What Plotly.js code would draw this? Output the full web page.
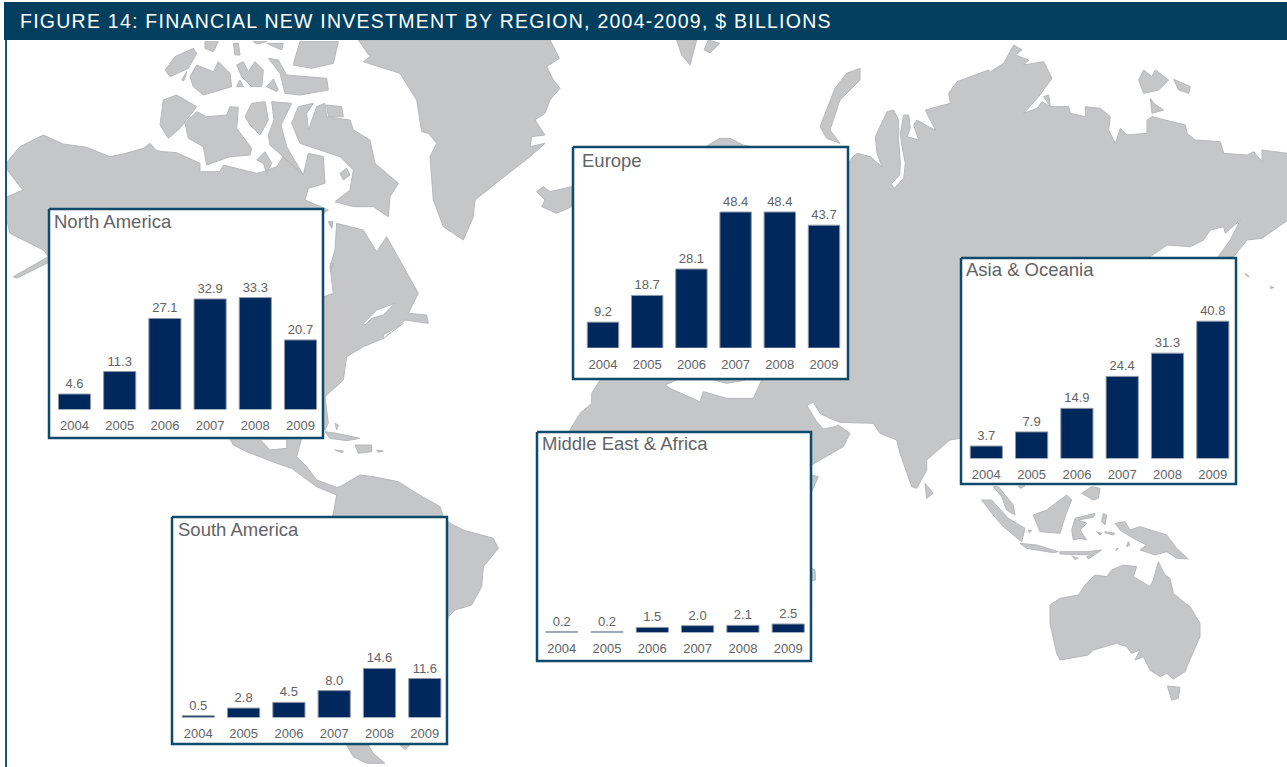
<!DOCTYPE html>
<html><head><meta charset="utf-8">
<script src="https://cdn.plot.ly/plotly-3.0.1.min.js"></script>
<style>html,body{margin:0;padding:0;background:#fff}#c{width:1287px;height:767px}.gtitle{letter-spacing:1.25px}</style>
</head><body><div id="c"></div>
<script>
// ---------- chart data ----------
const years = ['2004','2005','2006','2007','2008','2009'];
const northAmerica = [4.6,11.3,27.1,32.9,33.3,20.7];
const europe = [9.2,18.7,28.1,48.4,48.4,43.7];
const asiaOceania = [3.7,7.9,14.9,24.4,31.3,40.8];
const middleEastAfrica = [0.2,0.2,1.5,2.0,2.1,2.5];
const southAmerica = [0.5,2.8,4.5,8.0,14.6,11.6];
const regionNames = ['North America','Europe','Asia & Oceania','Middle East & Africa','South America'];

// ---------- map outlines, read at 3x from crops of the picture ----------
const z=(pts,ox,oy)=>pts.map(p=>[ox+p[0]/3,oy+p[1]/3]);
const americas=[].concat(z([[22,485],[60,440],[130,405],[190,432],[260,442],[330,470],[370,462],[430,445],[450,430],[470,452],[490,455],[530,458],[600,490],[600,515],[660,515],[670,495],[770,520],[790,515],[830,500],[850,470],[910,525],[925,460],[970,470],[975,550],[925,565],[915,600],[985,630],[966,642]],0,0),
 [[300,297],[323,297]],
 z([[1000,280],[990,200],[1005,150],[1010,70],[1090,90],[1130,155],[1160,110],[1200,180],[1255,280],[1225,340],[1280,345],[1285,370],[1215,360],[1150,415],[1090,440],[1040,470],[1030,540],[975,590],[985,670],[975,690],[968,670]],0,200),
 [[300,420]],
 z([[905,715],[890,770],[920,800],[950,840],[1010,862]],0,200),
 z([[540,50],[600,15],[640,20],[715,35],[770,70],[840,110],[850,140],[870,160],[910,180],[1000,205],[1015,235],[970,290],[965,350],[935,405],[885,420],[865,440],[800,700],[625,825],[640,850],[675,880],[620,880],[580,860],[560,825],[400,500],[520,130]],160,470),
 z([[1010,885],[950,860],[875,805],[830,790],[740,755],[700,735]],0,200),
 [[150,300]],
 z([[150,185],[50,235],[40,230],[145,170],[130,150],[90,130],[30,100],[20,60]],0,200),
 z([[22,590],[70,570],[60,560],[22,510]],0,0));
const arctic=[
 [[490,300],[530,285],[590,320],[570,345],[540,385],[505,415],[480,375]],
 [[555,370],[590,335],[620,350],[680,345],[690,320],[715,322],[710,385],[755,445],[750,465],[690,470],[620,495],[610,440],[565,415]],
 [[735,350],[755,310],[795,305],[805,360],[780,405],[750,375]],
 [[815,305],[875,310],[843,375],[860,440],[910,525],[850,470],[810,435],[805,405],[822,360]],
 [[770,480],[795,455],[815,490],[800,520],[790,490]],
 [[875,370],[895,320],[940,310],[920,340],[925,390],[950,320],[975,310],[980,350],[1050,360],[1060,390],[1110,420],[1125,490],[1195,550],[1170,590],[1165,650],[1120,620],[1060,620],[1005,605],[1050,570],[1060,510],[1020,470],[960,450],[900,430]],
 [[980,315],[1025,320],[1030,350],[985,350]],
 [[1020,520],[1040,505],[1050,525],[1030,540]],
 [[495,210],[525,170],[580,145],[590,160],[565,205],[510,230]],
 [[570,230],[590,195],[640,215],[655,185],[690,220],[695,260],[610,285],[580,260]],
 [[710,195],[730,185],[745,215],[765,185],[790,210],[785,260],[755,260],[725,230]],
 [[805,175],[835,180],[860,225],[980,235],[985,270],[900,285],[855,280],[840,220]],
 [[800,260],[820,237],[835,270],[830,275]],
 [[885,175],[900,125],[1015,125],[1000,190],[935,205],[880,195]],
 [[700,130],[715,130],[720,165],[705,165]],
 [[615,125],[655,125],[640,155],[615,145]],
 [[760,125],[800,125],[770,132]],
 [[800,130],[850,130],[845,150]],
 [[710,260],[720,240],[730,260]],
 [[545,240],[560,215],[552,242]],
 [[985,665],[998,665],[995,685]]
].map(p=>z(p,0,0));
const greenland=[].concat(z([[1075,120],[1110,170],[1090,185],[1200,220],[1250,300],[1265,395],[1285,400]],0,0),
 z([[20,430],[0,470],[10,600],[40,680],[100,720],[130,650],[135,600],[210,540],[300,470],[345,430],[300,440],[305,410],[345,405],[315,360],[345,340],[360,300],[390,265],[370,240],[350,200],[388,175],[360,120]],430,0));
const northAtlantic=[
 [[740,120],[800,120],[780,195],[755,165]],
 [[822,150],[835,120],[870,130],[840,158]],
 [[320,575],[340,560],[360,575],[425,560],[425,620],[380,640],[335,620],[345,600]],
 [[1290,205],[1250,220],[1215,265],[1170,380],[1190,415],[1230,430],[1200,390],[1230,300],[1290,240]]
].map(p=>z(p,430,0));
const eurasiaAfrica=[].concat(
 z([[0,460],[40,470],[75,500],[60,460],[55,410],[90,335],[110,330],[125,360],[125,420],[130,490],[128,525],[102,552],[112,565],[140,535],[145,490],[135,440],[130,400],[140,345],[155,345],[160,385],[150,410],[185,420],[170,375],[180,360],[215,380],[235,390],[205,330],[280,310],[275,280],[300,245],[395,210],[400,215],[440,190],[470,135],[495,150],[475,165],[515,180],[500,195],[560,185],[585,235],[545,290],[500,340],[540,325],[555,305],[580,320],[635,320],[640,340],[685,350],[685,320],[730,325],[760,350],[755,390],[775,430],[790,385],[810,405],[870,400],[870,360],[885,350],[985,375],[990,400],[1015,420],[1090,425],[1100,460],[1170,465],[1190,455],[1215,485],[1215,450],[1293,460],[1293,660],[1215,715],[1170,720],[1130,770],[1080,775],[1120,720],[1150,660],[1105,700],[1100,680],[1060,690],[1040,720],[1000,740],[930,735],[880,770]],857,0),
 [[1050,350]],
 z([[1290,205],[1260,210],[1190,270],[1190,300],[1160,355],[1145,350],[1110,250],[1100,210],[1050,190],[1030,160],[930,157],[900,145],[870,130],[850,97],[830,105],[860,155],[880,177],[915,170],[925,165],[960,190],[940,230],[870,270],[845,285],[845,315],[865,320],[845,365]],530,370),
 [[790,640],[650,650],[560,480]],
 z([[120,180],[150,130],[185,100],[185,70],[210,30]],530,370),
 [[600,300],[650,200]],
 z([[835,435],[870,415],[900,415],[940,435]],430,0),
 [[846,166],[852,158]]);
const pacificIslands=[
 [[100,20],[115,20],[160,75],[165,105],[140,90],[125,50]],
 [[65,60],[95,60],[145,115],[195,145],[185,185],[130,140],[95,100]],
 [[180,190],[230,195],[295,215],[280,218],[200,205]],
 [[300,215],[380,215],[425,210],[385,237],[380,230],[400,225],[300,222]],
 [[220,105],[260,90],[320,45],[335,60],[315,110],[300,160],[240,155]],
 [[345,115],[405,100],[400,112],[355,120],[380,130],[360,150],[380,180],[360,175],[340,180],[335,150]],
 [[365,40],[395,20],[420,25],[415,55],[400,60]],
 [[430,100],[440,105],[435,135],[425,125]],
 [[465,130],[495,125],[510,150],[540,140],[620,165],[650,205],[685,237],[650,235],[620,215],[585,225],[540,210],[560,195],[520,175],[480,150]],
 [[435,155],[465,160],[460,165],[435,158]],
 [[410,155],[425,160],[420,165]],
 [[505,185],[510,195],[500,200]],
 [[470,205],[475,205],[468,212]],
 [[335,228],[355,235],[345,238]],
 [[205,150],[215,152],[208,158]],
 [[175,18],[195,18],[180,25]],
 [[270,375],[300,355],[355,345],[375,315],[405,285],[440,290],[455,270],[490,255],[530,260],[520,290],[570,320],[580,300],[595,245],[615,285],[630,295],[640,340],[670,365],[690,380],[720,430],[720,470],[685,550],[675,575],[640,597],[620,580],[600,590],[570,570],[550,530],[525,540],[540,510],[515,520],[500,500],[470,490],[400,510],[385,525],[330,535],[300,540],[290,520],[270,430]],
 [[622,618],[660,622],[655,655],[635,660]]
].map(p=>z(p,960,480));
const smallIslands=[
 [[975,695],[1010,700],[1080,715],[1040,722],[990,715]],
 [[1065,735],[1115,735],[1115,755],[1075,760]],
 [[1005,750],[1030,753],[1028,758]],
 [[1130,750],[1150,753],[1135,757]],
 [[1005,670],[1015,675],[1010,690]],
 [[990,65],[998,65],[995,85]],
 [[990,190],[1000,190],[995,208]]
].map(p=>z(p,0,200)).concat([
 [[720,825],[750,825],[735,838]]
].map(p=>z(p,160,470))).concat([
 [[1185,340],[1210,370],[1190,385]],
 [[845,595],[855,600],[857,630],[845,632]]
].map(p=>z(p,530,370))).concat([
 [[845,240],[860,210],[885,230],[895,210],[935,240],[905,270],[860,280]],
 [[950,238],[1000,260],[995,280],[965,270]],
 [[880,295],[890,310],[920,330],[885,340]],
 [[560,290],[575,285],[580,320]]
].map(p=>z(p,857,0))).concat([
 [[885,70],[898,80],[890,78]],
 [[960,110],[972,112],[962,116]]
].map(p=>z(p,950,250)));
const seas=[
 [[405,45],[440,30],[550,30],[590,40],[650,30],[695,30],[670,85],[590,85],[520,65],[510,95],[420,55]]
].map(p=>z(p,530,370)).concat([
 [[1090,370],[1130,330],[1185,310],[1150,345],[1115,355],[1095,375]],
 [[1150,415],[1210,370],[1150,405]],
 [[780,718],[810,750],[860,745],[860,718]]
].map(p=>z(p,0,200)));

// ---------- layout boxes ----------
const W=1287,H=767;
const panels=[
 {v:northAmerica,box:[49,209,323,438],base:409.5,first:74.5,pitch:45.2,k:3.36,tx:52,ty:221,off:6},
 {v:europe,box:[573,147,848,379],base:348,first:603,pitch:44.2,k:2.81,tx:580,ty:160,off:7},
 {v:asiaOceania,box:[961,258,1236,484],base:458.5,first:986.3,pitch:45.3,k:3.365,tx:964,ty:269,off:6},
 {v:middleEastAfrica,box:[537,432,811,661],base:632.5,first:561.7,pitch:45.3,k:3.4,tx:540,ty:443,off:6},
 {v:southAmerica,box:[172,517,447,744],base:717.5,first:198.3,pitch:45.3,k:3.36,tx:176,ty:529,off:6}
];
const flat=l=>{const x=[],y=[];l.forEach(p=>{p.forEach(q=>{x.push(q[0]);y.push(q[1])});x.push(p[0][0],null);y.push(p[0][1],null)});return {x,y}};
const land=flat([americas,greenland,eurasiaAfrica].concat(arctic,northAtlantic,pacificIslands,smallIslands));
const water=flat(seas);
const boxes=flat(panels.map(p=>[[p.box[0],p.box[1]],[p.box[2],p.box[1]],[p.box[2],p.box[3]],[p.box[0],p.box[3]]]));

const navy='#00285c',edge='#8f97a6',border='#0d4a6c',txt='#626365',landC='#c5c6c8';
const traces=[
 {type:'scatter',mode:'lines',x:land.x,y:land.y,fill:'toself',fillcolor:landC,line:{color:'#b7b8ba',width:1},hoverinfo:'skip',showlegend:false},
 {type:'scatter',mode:'lines',x:water.x,y:water.y,fill:'toself',fillcolor:'#ffffff',line:{color:'#b7b8ba',width:1},hoverinfo:'skip',showlegend:false},
 {type:'scatter',mode:'lines',x:boxes.x,y:boxes.y,fill:'toself',fillcolor:'#ffffff',line:{color:border,width:2.5},hoverinfo:'skip',showlegend:false}
];
const layout={
 width:W,height:H,margin:{l:0,r:0,t:0,b:0},paper_bgcolor:'#fff',plot_bgcolor:'rgba(0,0,0,0)',showlegend:false,
 font:{family:'"Liberation Sans",Arial,sans-serif',color:txt},
 title:{text:'FIGURE 14: FINANCIAL NEW INVESTMENT BY REGION, 2004-2009, $ BILLIONS',x:20/W,xanchor:'left',xref:'paper',y:1-21/H,yanchor:'middle',yref:'paper',font:{size:19.5,color:'#fff',family:'"Liberation Sans",Arial,sans-serif'}},
 xaxis:{domain:[0,1],range:[0,W],visible:false,fixedrange:true},
 yaxis:{domain:[0,1],range:[H,0],visible:false,fixedrange:true},
 shapes:[
  {type:'rect',layer:'above',xref:'paper',yref:'paper',x0:4/W,x1:1,y0:1-40/H,y1:1-2/H,fillcolor:'#023f5f',line:{width:0}},
  {type:'rect',layer:'above',xref:'paper',yref:'paper',x0:5/W,x1:7/W,y0:0,y1:1-40/H,fillcolor:'#1d5474',line:{width:0}}
 ],
 annotations:[],
 bargap:0.29
};
panels.forEach((p,i)=>{
 const n=i+2,xk='xaxis'+n,yk='yaxis'+n;
 const l=p.first-p.pitch/2,r=l+p.pitch*years.length;
 const top=p.box[1]+2;
 traces.push({type:'bar',x:years,y:p.v,xaxis:'x'+n,yaxis:'y'+n,marker:{color:navy,line:{color:edge,width:1}},
  text:p.v.map(v=>v.toFixed(1)),textposition:'outside',cliponaxis:false,constraintext:'none',
  textfont:{size:13,color:txt},hoverinfo:'x+y',showlegend:false});
 layout[xk]={domain:[l/W,Math.min(r/W,1)],anchor:'y'+n,type:'category',categoryorder:'array',categoryarray:years,
  showgrid:false,zeroline:false,showline:false,ticks:'',ticklabelstandoff:p.off,tickfont:{size:13,color:txt},fixedrange:true};
 layout[yk]={domain:[1-p.base/H,1-top/H],anchor:'x'+n,range:[0,(p.base-top)/p.k],visible:false,fixedrange:true};
 layout.annotations.push({xref:'paper',yref:'paper',x:p.tx/W,y:1-p.ty/H,xanchor:'left',yanchor:'middle',text:regionNames[i],showarrow:false,font:{size:18.5,color:txt}});
});
Plotly.newPlot('c',traces,layout,{staticPlot:true,displayModeBar:false});
</script></body></html>
